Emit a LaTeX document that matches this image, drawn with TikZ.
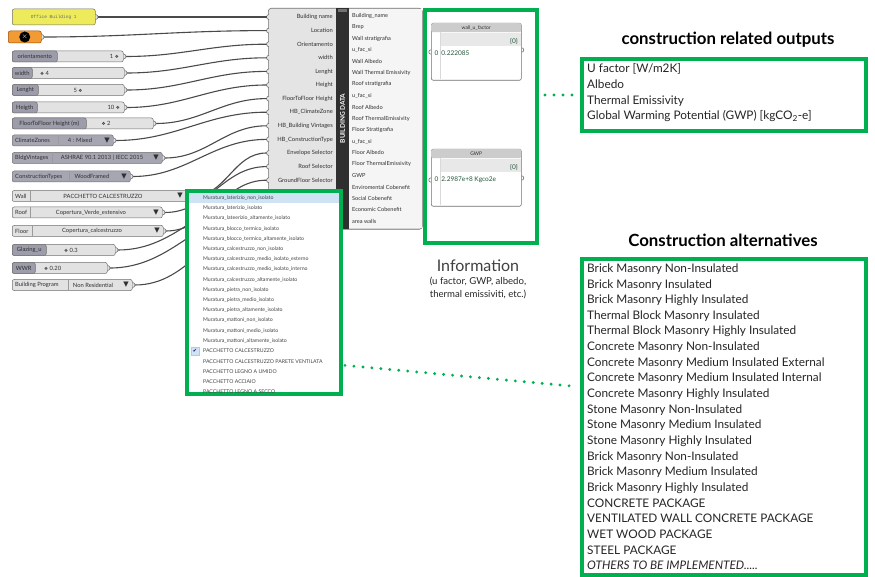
\documentclass[tikz,border=0pt]{standalone}
\usepackage{fontspec}
\setmainfont{Lato}
\newfontfamily\dejavu{DejaVu Sans}
\newfontfamily\panelfont{Liberation Mono}
\usetikzlibrary{positioning}
\definecolor{ggreen}{HTML}{00B050}
\definecolor{wirecol}{HTML}{4A4A4A}
\definecolor{ghedge}{HTML}{707070}
\definecolor{ghlight}{HTML}{E2E2E2}
\definecolor{ghdark}{HTML}{A6A6B3}
\definecolor{ghlabel}{HTML}{9C9CAA}
\definecolor{ghtext}{HTML}{303030}
\definecolor{compfill}{HTML}{E4E4E4}
\definecolor{bandcol}{HTML}{2F2F2F}
\definecolor{hilite}{HTML}{CFE3F5}
\definecolor{valgreen}{HTML}{24563A}
\definecolor{panelyellow}{HTML}{EDEB5C}
\definecolor{toggleorange}{HTML}{F29A33}
\newcommand{\ghfont}{\fontsize{5.8}{7}\selectfont}
\newcommand{\ghsmall}{\fontsize{5.6}{7}\selectfont}
\newcommand{\ddarrow}{{\dejavu\fontsize{7}{7}\selectfont ▼}}
\newcommand{\sliderknob}{{\dejavu\fontsize{4.5}{5}\selectfont ❖}}

\begin{document}
\begin{tikzpicture}[x=1pt,y=-1pt,
  gh/.style={draw=ghedge,fill=ghlight,rounded corners=2pt,line width=.5pt,
    inner sep=0pt,minimum height=11pt,anchor=west},
  ghdk/.style={gh,fill=ghdark},
  lab/.style={gh,fill=ghlabel,font=\ghfont,text=ghtext},
  txt/.style={font=\ghfont,text=ghtext,inner sep=0pt},
  sep/.style={draw=ghedge!70,line width=.4pt},
  grip/.style={draw=ghedge,line width=.6pt},
  wire/.style={draw=wirecol,line width=1.1pt},
  gbox/.style={draw=ggreen,line width=4pt,outer sep=0pt,inner sep=0pt,anchor=north west},
  dots/.style={draw=ggreen,line width=3.2pt,line cap=round,dash pattern=on 0pt off 9pt},
  item/.style={font=\fontsize{5.2}{6}\selectfont,text=ghtext!90,inner sep=0pt,anchor=west},
  panel/.style={draw=ghedge,fill=white,rounded corners=2pt,line width=.6pt,
    minimum width=90pt,minimum height=57pt,anchor=north west,inner sep=0pt},
  phead/.style={fill=black!20,rounded corners=2pt,minimum width=90pt,minimum height=9pt,
    anchor=north west,inner sep=0pt,font=\fontsize{5}{6}\selectfont,text=ghtext},
  value/.style={font=\fontsize{6.5}{7}\selectfont,text=valgreen,inner sep=0pt},
  listtxt/.style={font=\fontsize{11.8}{15.65}\selectfont,text=black!85,align=left,
    inner sep=0pt,anchor=north west},
  title/.style={font=\fontsize{16.8}{18}\selectfont\bfseries}]
\useasboundingbox[fill=white] (0,0) rectangle (875,577);

% input components on the left
\node[gh,fill=panelyellow,minimum width=83pt,minimum height=16pt,
  font=\panelfont\fontsize{4.5}{5}\selectfont,text=black!60] (bname) at (12,17) {Office Building 1};
\node[gh,fill=toggleorange,draw=orange!60!black,minimum width=33pt,minimum height=12pt] (toggle) at (8,37) {};
\fill (toggle.center) circle (5.5pt);
\node[text=white,inner sep=0pt,font=\fontsize{7}{7}\selectfont] at (toggle.center) {$\times$};

\node[gh,minimum width=111pt] (orient) at (12,56.5) {};
\node[lab,minimum width=45pt] at (orient.west) {orientamento};
\node[txt,anchor=east] at (119,56.5) {1 \sliderknob};

\node[gh,minimum width=112pt] (wid) at (12,73) {};
\node[lab,minimum width=20pt] at (wid.west) {width};
\node[txt,anchor=west] at (40,73) {\sliderknob\ 4};

\node[gh,minimum width=112pt] (len) at (12,90) {};
\node[lab,minimum width=26pt] at (len.west) {Lenght};
\node[txt] at (78,90) {5 \sliderknob};

\node[gh,minimum width=112pt] (hei) at (12,107.5) {};
\node[lab,minimum width=25pt] at (hei.west) {Heigth};
\node[txt,anchor=east] at (120,107.5) {10 \sliderknob};

\node[gh,minimum width=141pt] (f2f) at (12,123.5) {};
\node[lab,minimum width=74pt] at (f2f.west) {FloorToFloor Height (m)};
\node[txt] at (106,123.5) {\sliderknob\ 2};

\node[ghdk,minimum width=101pt] (climate) at (12,140.5) {};
\draw[sep] (58,135) -- (58,146);
\node[txt,anchor=west] at (15,140.5) {ClimateZones};
\node[txt] at (80,140.5) {4 : Mixed};
\node[txt,anchor=east] at (110,140.5) {\ddarrow};

\node[ghdk,minimum width=150pt] (vintage) at (12,158) {};
\draw[sep] (52,152.5) -- (52,163.5);
\node[txt,anchor=west] at (15,158) {BldgVintages};
\node[txt] at (102,158) {ASHRAE 90.1 2013 | IECC 2015};
\node[txt,anchor=east] at (159,158) {\ddarrow};

\node[ghdk,minimum width=118pt] (ctype) at (12,176.5) {};
\draw[sep] (69,171) -- (69,182);
\node[txt,anchor=west] at (15,176.5) {ConstructionTypes};
\node[txt] at (92,176.5) {WoodFramed};
\node[txt,anchor=east] at (127,176.5) {\ddarrow};

\node[gh,minimum width=178pt] (wall) at (12,196) {};
\draw[sep] (30,190.5) -- (30,201.5);
\node[txt,anchor=west] at (15,196) {Wall};
\node[txt] at (103,196) {PACCHETTO CALCESTRUZZO};
\node[txt,anchor=east] at (183,196) {\ddarrow};

\node[gh,minimum width=150pt] (roof) at (12,212.5) {};
\draw[sep] (30,207) -- (30,218);
\node[txt,anchor=west] at (15,212.5) {Roof};
\node[txt] at (91,212.5) {Copertura\_Verde\_estensivo};
\node[txt,anchor=east] at (159,212.5) {\ddarrow};

\node[gh,minimum width=151pt] (flr) at (12,231) {};
\draw[sep] (32,225.5) -- (32,236.5);
\node[txt,anchor=west] at (15,231) {Floor};
\node[txt] at (92,231) {Copertura\_calcestruzzo};
\node[txt,anchor=east] at (160,231) {\ddarrow};

\node[gh,minimum width=103pt] (glazing) at (12,250) {};
\node[lab,minimum width=34pt] at (glazing.west) {Glazing\_u};
\node[txt,anchor=west] at (64,250) {\sliderknob\ 0.3};

\node[gh,minimum width=95pt] (wwr) at (12,268) {};
\node[lab,minimum width=23pt] at (wwr.west) {WWR};
\node[txt,anchor=west] at (44,268) {\sliderknob\ 0.20};

\node[gh,minimum width=120pt] (program) at (12,285) {};
\draw[sep] (68,279.5) -- (68,290.5);
\node[txt,anchor=west] at (15,285) {Building Program};
\node[txt] at (93,285) {Non Residential};
\node[txt,anchor=east] at (129,285) {\ddarrow};

% building data component
\node[draw=ghedge,fill=compfill,rounded corners=3pt,line width=.6pt,minimum width=154pt,
  minimum height=221pt,anchor=north west,inner sep=0pt] (bd) at (268,8) {};
\fill[bandcol] (336,8.3) rectangle (349,228.7);
\fill[black!55] (338,9.5) rectangle (347,12.5);
\fill[black!4] (349.3,8.8) rectangle (421.5,228.2);
\node[rotate=90,text=white,font=\bfseries\fontsize{6.5}{7}\selectfont] at (342.5,118.5) {BUILDING DATA};
\foreach \t [count=\i] in {Building name,Location,Orientamento,width,Lenght,Height,
  FloorToFloor Height,HB\_ClimateZone,HB\_Building Vintages,HB\_ConstructionType,
  Envelope Selector,Roof Selector,GroundFloor Selector}
  \node[txt,anchor=east] at (333,3.4+13.6*\i) {\t};
\foreach \t [count=\i] in {Building\_name,Brep,Wall stratigrafia,u\_fac\_si,Wall Albedo,
  Wall Thermal Emissivity,Roof stratigrafia,u\_fac\_si,Roof Albedo,Roof ThermalEmissivity,
  Floor Stratigrafia,u\_fac\_si,Floor Albedo,Floor ThermalEmissivity,GWP,
  Enviromental Cobenefit,Social Cobenefit,Economic Cobenefit,area walls}
  \node[txt,anchor=west,font=\ghsmall] at (352,4.6+11.4*\i) {\t};
\foreach \i in {1,...,16} {
  \coordinate (in\i) at (266.5,3.4+13.6*\i);
  \draw[grip,fill=compfill] (in\i) ++(2.5,-2.5) arc[start angle=90,end angle=270,radius=2.5pt];
}

% wires
\foreach \c [count=\i] in {bname,toggle,orient,wid,len,hei,f2f,climate,
  vintage,ctype,wall,roof,flr,glazing,wwr,program} {
  \draw[wire] ([xshift=2.5pt]\c.east) to[out=0,in=180] (in\i);
  \draw[grip,fill=ghlight] (\c.east) ++(0,-2.5) arc[start angle=90,end angle=-90,radius=2.5pt];
}

% dropdown list
\node[gbox,fill=white,minimum width=154pt,minimum height=203pt] (dd) at (187,191) {};
\begin{scope}
  \clip ([shift={(2pt,-2pt)}]dd.north west) rectangle ([shift={(-2pt,2pt)}]dd.south east);
  \fill[hilite] (189,193.5) rectangle (339,203);
  \foreach \t [count=\i] in {Muratura\_laterizio\_non\_isolato,Muratura\_laterizio\_isolato,
    Muratura\_lateerizio\_altamente\_isolato,Muratura\_blocco\_termico\_isolato,
    Muratura\_blocco\_termico\_altamente\_isolato,Muratura\_calcestruzzo\_non\_isolato,
    Muratura\_calcestruzzo\_medio\_isolato\_esterno,Muratura\_calcestruzzo\_medio\_isolato\_interno,
    Muratura\_calcestruzzo\_altamente\_isolato,Muratura\_pietra\_non\_isolato,
    Muratura\_pietra\_medio\_isolato,Muratura\_pietra\_altamente\_isolato,
    Muratura\_mattoni\_non\_isolato,Muratura\_mattoni\_medio\_isolato,
    Muratura\_mattoni\_altamente\_isolato,PACCHETTO CALCESTRUZZO,
    PACCHETTO CALCESTRUZZO PARETE VENTILATA,PACCHETTO LEGNO A UMIDO,
    PACCHETTO ACCIAIO,PACCHETTO LEGNO A SECCO}
    \node[item] at (203,187.8+10.2*\i) {\t};
  \node[fill=hilite,draw=blue!25,minimum size=8pt,inner sep=0pt,text=blue!40!black,
    font=\dejavu\fontsize{5}{5}\selectfont] at (195,351) {✔};
\end{scope}

% output panels
\node[gbox,minimum width=112pt,minimum height=233pt] (outbox) at (425,10) {};
\node[panel] (uval) at (431,23) {};
\node[phead] at (uval.north west) {wall\_u\_factor};
\fill[black!9] (440,33) rectangle (520.5,46.5);
\draw[black!15] (440,32) -- (440,79.5);
\node[value,anchor=east] at (518,41) {\{0\}};
\node[value,anchor=west] at (434.5,53) {0\hspace{3pt}0.222085};
\draw[grip] (uval.west |- 0,52) ++(0,-2.2) arc[start angle=90,end angle=270,radius=2.2pt];
\draw[grip] (uval.east |- 0,50) ++(0,-2.2) arc[start angle=90,end angle=-90,radius=2.2pt];

\node[panel] (gwp) at (431,149) {};
\node[phead] at (gwp.north west) {GWP};
\fill[black!9] (440,159) rectangle (520.5,172.5);
\draw[black!15] (440,158) -- (440,205.5);
\node[value,anchor=east] at (518,167) {\{0\}};
\node[value,anchor=west] at (434.5,180) {0\hspace{3pt}2.2987e+8 Kgco2e};
\draw[grip] (gwp.west |- 0,180) ++(0,-2.2) arc[start angle=90,end angle=270,radius=2.2pt];
\draw[grip] (gwp.east |- 0,178) ++(0,-2.2) arc[start angle=90,end angle=-90,radius=2.2pt];

\node[font=\fontsize{16}{18}\selectfont,text=black!75] (info) at (478,266) {Information};
\node[font=\fontsize{9.6}{12.5}\selectfont,align=center,text=black!85,below=-1.5pt of info] (infosub)
  {(u factor, GWP, albedo,\\thermal emissiviti, etc.)};

% explanation boxes
\node[title] (t1) at (728,40) {construction related outputs};
\node[gbox,minimum width=284pt,minimum height=72pt] (outs) at (582,59) {};
\node[listtxt] at (587,63.5) {U factor [W/m2K]\\Albedo\\Thermal Emissivity\\
  Global Warming Potential (GWP) [kgCO\textsubscript{2}-e]};

\node[title] (t2) at (723,240) {Construction alternatives};
\node[gbox,minimum width=284pt,minimum height=316pt] (alts) at (582,259) {};
\node[listtxt] at (587,263.5) {Brick Masonry Non-Insulated\\Brick Masonry Insulated\\
  Brick Masonry Highly Insulated\\Thermal Block Masonry Insulated\\
  Thermal Block Masonry Highly Insulated\\Concrete Masonry Non-Insulated\\
  Concrete Masonry Medium Insulated External\\Concrete Masonry Medium Insulated Internal\\
  Concrete Masonry Highly Insulated\\Stone Masonry Non-Insulated\\
  Stone Masonry Medium Insulated\\Stone Masonry Highly Insulated\\
  Brick Masonry Non-Insulated\\Brick Masonry Medium Insulated\\
  Brick Masonry Highly Insulated\\CONCRETE PACKAGE\\
  VENTILATED WALL CONCRETE PACKAGE\\WET WOOD PACKAGE\\STEEL PACKAGE\\
  \textit{OTHERS TO BE IMPLEMENTED.....}};

% dotted links
\draw[dots,shorten <=8pt,shorten >=9.5pt] (outbox.east |- outs.west) -- (outs.west);
\draw[dots,shorten <=4pt,shorten >=5pt] ([yshift=-72.5pt]dd.east) -- ([yshift=30pt]alts.west);
\end{tikzpicture}
\end{document}
